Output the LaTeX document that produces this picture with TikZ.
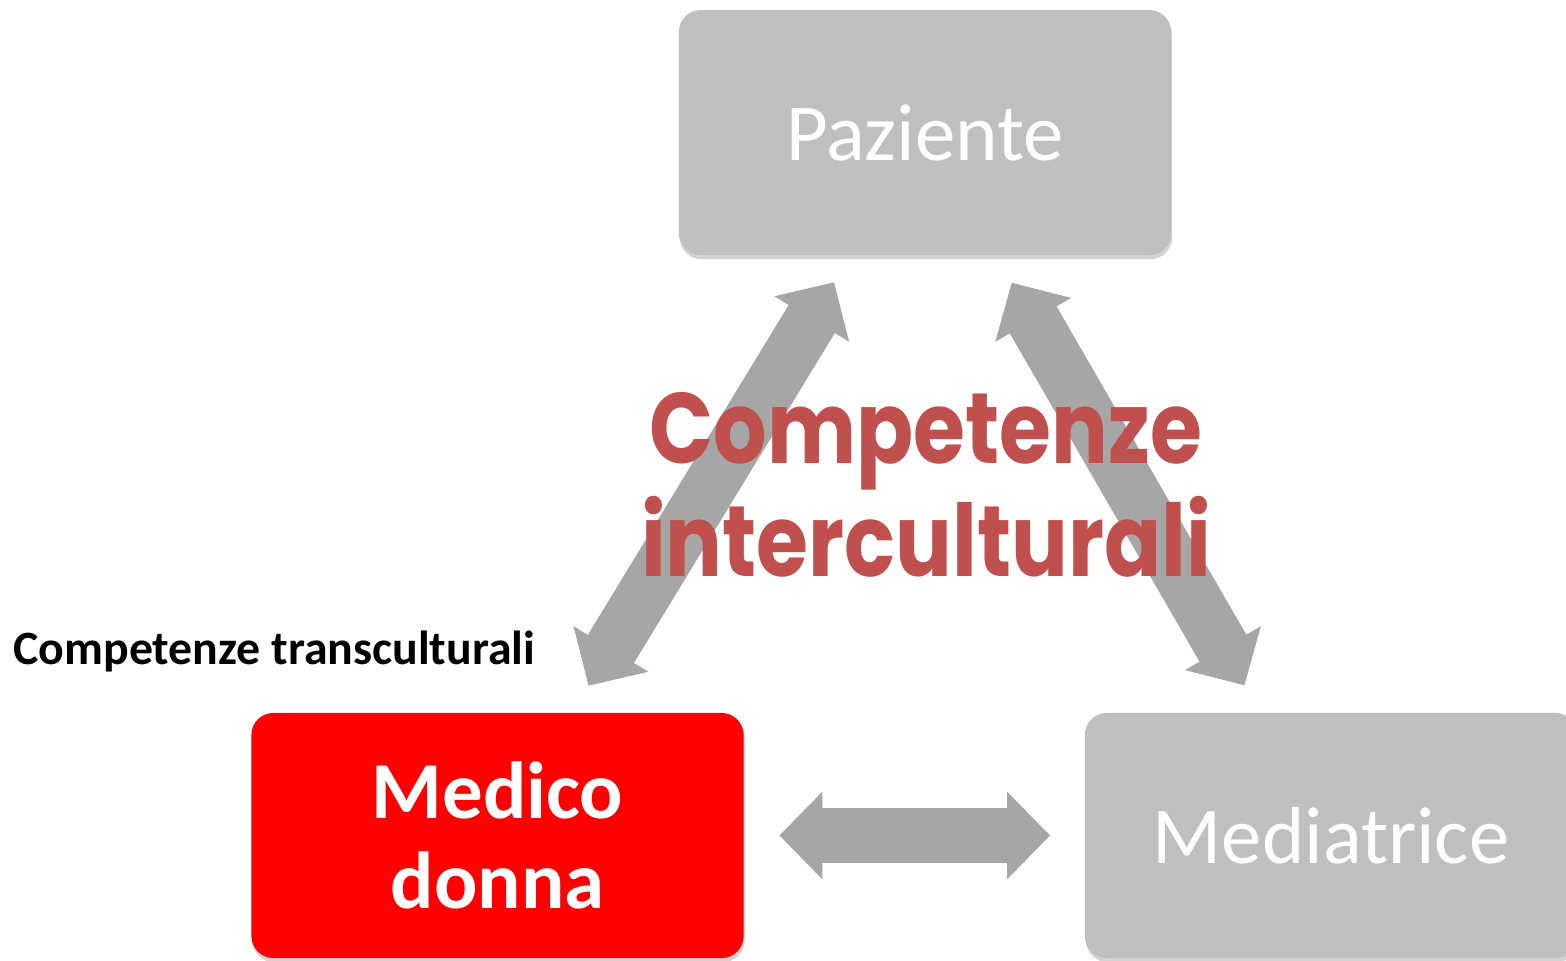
\documentclass[tikz,border=0pt]{standalone}
\usepackage{fontspec}
\setmainfont{Carlito}
\newfontfamily\comicfont[FakeStretch=0.84]{Poppins}
\usetikzlibrary{arrows.meta, positioning, shadows}

\definecolor{boxgray}{HTML}{BFBFBF}
\definecolor{arrowgray}{HTML}{A6A6A6}
\definecolor{interred}{HTML}{C0504D}

\tikzset{
  actor/.style={rectangle, rounded corners=0.22cm, minimum width=4.92cm,
    minimum height=2.45cm, fill=boxgray, text=white, align=center,
    font=\fontsize{23}{26}\selectfont,
    drop shadow={shadow xshift=0.3pt, shadow yshift=-1.2pt, opacity=0.35}},
  bigarrow/.style={draw=arrowgray, line width=0.54cm,
    {Triangle[length=0.43cm, width=0.85cm]}-{Triangle[length=0.43cm, width=0.85cm]}},
}

\begin{document}
\begin{tikzpicture}[x=0.01cm, y=-0.01cm]
      \useasboundingbox (0,0) rectangle (1566,960); % page size in px
      \clip (0,0) rectangle (1566,960);
      % the three boxes
      \node[actor] (paziente) at (925,132.5) {Paziente};
      \node[actor, fill=red, font=\bfseries\fontsize{23}{25.5}\selectfont] (medico) at (497.5,835.5) {Medico\\donna};
      \node[actor] (mediatrice) at (1331,835.5) {Mediatrice};
      % arrows between them
      \draw[bigarrow, shorten <=0.31cm, shorten >=0.31cm] (medico) -- (paziente);
      \draw[bigarrow, shorten <=0.31cm, shorten >=0.31cm] (paziente) -- (mediatrice);
      \draw[bigarrow, shorten <=0.35cm, shorten >=0.34cm] (medico) -- (mediatrice);
      % labels
      \node[anchor=west, font=\bfseries\fontsize{13.6}{16}\selectfont] (trans) at (1,651) {Competenze transculturali};
      \node[text=interred, align=center, font=\comicfont\bfseries\fontsize{28.5}{32}\selectfont] (inter) at (926,485) {Competenze\\interculturali};
\end{tikzpicture}
\end{document}
